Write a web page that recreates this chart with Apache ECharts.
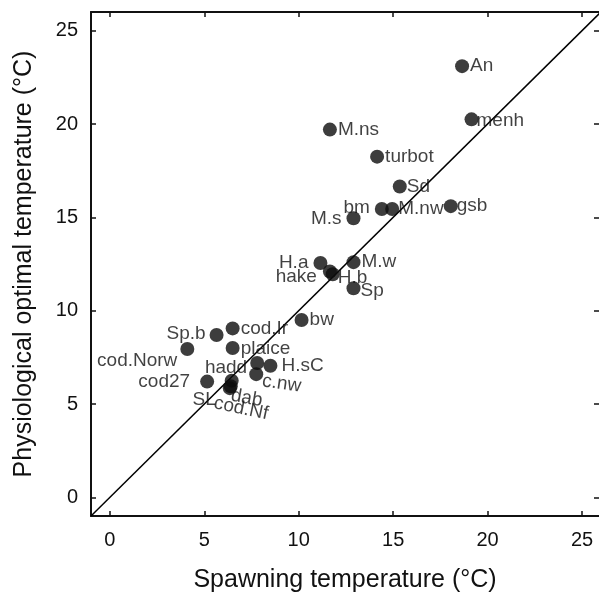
<!DOCTYPE html>
<html>
<head>
<meta charset="utf-8">
<script src="https://cdn.jsdelivr.net/npm/echarts@6/dist/echarts.min.js"></script>
<style>html,body{margin:0;padding:0;background:#fff;}#c{width:599px;height:593px;}</style>
</head>
<body>
<div id="c"></div>
<script>
// ---- data ----
var species = ['An','menh','M.ns','turbot','Sd','bm','M.nw','gsb','M.s','H.a','hake','H.b','M.w','Sp','bw','cod.Ir','Sp.b','plaice','cod.Norw','hadd','H.sC','c.nw','cod27','dab','SL','cod.Nf'];
var spawningTemp = [18.65,19.15,11.65,14.15,15.35,14.4,14.95,18.05,12.9,11.15,11.65,11.8,12.9,12.9,10.15,6.5,5.65,6.5,4.1,7.8,8.5,7.75,5.15,6.45,6.35,6.4];
var optimalTemp  = [23.1,20.25,19.7,18.25,16.65,15.45,15.45,15.6,14.95,12.55,12.1,11.95,12.6,11.2,9.5,9.05,8.7,8.0,7.95,7.2,7.05,6.6,6.2,6.25,5.85,5.95];
var tickValues = [0,5,10,15,20,25];
var identityLine = [[-1,-1],[26,26]];

// ---- label placement (style) ----
var labelStyle = {
  'An':{p:'right',d:1,dy:0},
  'menh':{p:'right',d:-2,dy:1},
  'M.ns':{p:'right',d:1,dy:0},
  'turbot':{p:'right',d:1,dy:0},
  'Sd':{p:'right',d:0,dy:0},
  'bm':{p:'left',d:5,dy:-1},
  'M.nw':{p:'right',d:-1,dy:0},
  'gsb':{p:'right',d:-1,dy:0},
  'M.s':{p:'left',d:5,dy:0},
  'H.a':{p:'left',d:5,dy:0},
  'hake':{p:'left',d:6,dy:5},
  'H.b':{p:'right',d:-2,dy:3},
  'M.w':{p:'right',d:1,dy:0},
  'Sp':{p:'right',d:0,dy:2},
  'bw':{p:'right',d:1,dy:0},
  'cod.Ir':{p:'right',d:1,dy:0},
  'Sp.b':{p:'left',d:4,dy:-1},
  'plaice':{p:'right',d:1,dy:1},
  'cod.Norw':{p:'left',d:3,dy:12},
  'hadd':{p:'left',d:3,dy:5},
  'H.sC':{p:'right',d:4,dy:0},
  'c.nw':{p:'right',d:0,dy:7,r:-8},
  'cod27':{p:'left',d:10,dy:0},
  'dab':{p:'right',d:-5,dy:15,r:-10},
  'SL':{p:'left',d:7,dy:12},
  'cod.Nf':{p:'right',d:-20,dy:17,r:-12}
};

var font = 'Liberation Sans, Arial, Helvetica, sans-serif';
var pts = species.map(function(n,i){
  var s = labelStyle[n];
  return {
    name:n,
    value:[spawningTemp[i], optimalTemp[i]],
    label:{show:true, position:s.p, distance:s.d, offset:[0,s.dy], rotate:s.r||0,
           align: s.p==='left'?'right':'left', verticalAlign:'middle'}
  };
});

var axisCommon = {
  type:'value', min:-1,
  axisLine:{show:true, onZero:false, lineStyle:{color:'#111', width:2}},
  axisTick:{show:true, inside:true, length:5, customValues:tickValues, lineStyle:{color:'#111', width:1.5}},
  splitLine:{show:false}
};

var chart = echarts.init(document.getElementById('c'), null, {renderer:'canvas'});
chart.setOption({
  animation:false,
  backgroundColor:'#fff',
  grid:{left:91, top:12, width:508, height:504, containLabel:false, outerBoundsMode:'none'},
  xAxis:[
    Object.assign({}, axisCommon, {position:'bottom', max:25.9,
      axisLabel:{show:true, customValues:tickValues, margin:14, fontSize:20, color:'#111', fontFamily:font},
      name:'Spawning temperature (°C)', nameLocation:'middle', nameGap:52,
      nameTextStyle:{fontSize:25, color:'#111', fontFamily:font}}),
    Object.assign({}, axisCommon, {position:'top', max:25.9, axisLabel:{show:false}})
  ],
  yAxis:[
    Object.assign({}, axisCommon, {position:'left', max:26,
      axisLabel:{show:true, customValues:tickValues, margin:13, fontSize:20, color:'#111', fontFamily:font},
      name:'Physiological optimal temperature (°C)', nameLocation:'middle', nameGap:54,
      nameTextStyle:{fontSize:25, color:'#111', fontFamily:font}}),
    Object.assign({}, axisCommon, {position:'right', max:26, axisLabel:{show:false},
      axisLine:{show:false, onZero:false}})
  ],
  series:[
    {type:'line', data:identityLine, symbol:'none', silent:true,
     lineStyle:{color:'#000', width:1.5}, z:1},
    {type:'scatter', data:pts, symbol:'circle', symbolSize:14,
     itemStyle:{color:'#0d0d0d'},
     label:{show:true, formatter:'{b}', fontSize:19, color:'#111', fontFamily:font},
     z:2}
  ]
});
</script>
</body>
</html>
